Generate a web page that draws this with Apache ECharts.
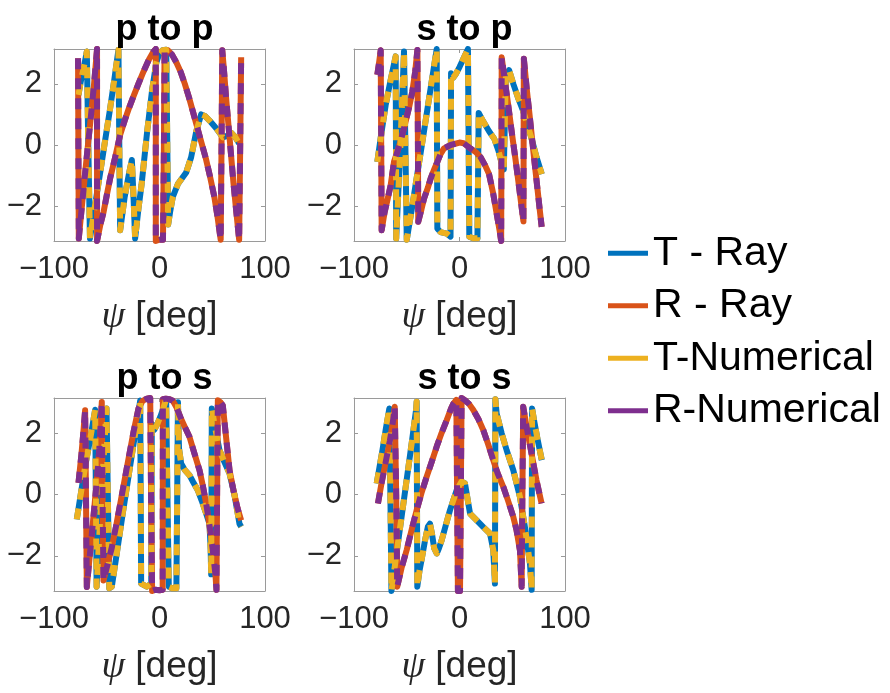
<!DOCTYPE html>
<html>
<head>
<meta charset="utf-8">
<title>Phase of reflection and transmission coefficients</title>
<script src="https://cdn.jsdelivr.net/npm/echarts@6/dist/echarts.min.js"></script>
<style>
  html, body { margin: 0; padding: 0; background: #ffffff; }
  #chart { width: 890px; height: 693px; }
</style>
</head>
<body>
<div id="chart"></div>
<script>
// Phase (rad) versus incidence angle psi (deg); T = transmitted, R = reflected.
// Ray-tracing and numerical results share the same phase curves.

const panelTitles = ['p to p', 's to p', 'p to s', 's to s'];
const seriesNames = ['T - Ray', 'R - Ray', 'T-Numerical', 'R-Numerical'];
const xTicks = [-100, 0, 100];
const yTicks = [-2, 0, 2];

// p to p
const ppT = [
  [-76.8, 1.64], [-74.5, 2.1], [-72, 2.5], [-70, 2.85], [-68.9, 3.06], [-67.5, 0], [-65.9, -3.06],
  [-61, -1.95], [-56, -0.85], [-52, 0.05], [-47, 1.15], [-43, 2.1], [-38.9, 3.12], [-38.1, 0], [-37.3, -2.79],
  [-33, -1.7], [-29, -0.95], [-26.2, -0.49], [-24.5, -1.8], [-23.1, -3.06],
  [-20, -2.1], [-17, -1.3], [-11.7, 0.44], [-7, 1.8], [-3, 2.7], [0, 3.0], [3, 3.1], [6.4, 3.12], [7.3, 0.3], [8.2, -2.6],
  [10, -2.2], [12.6, -1.7], [17.4, -1.28], [25.3, -0.9], [30, -0.4], [34.8, 0.44], [39.5, 1.0], [43, 0.95],
  [47.4, 0.8], [53.7, 0.55], [60, 0.25], [64, 0.3], [68, 0.4], [72, 0.25], [75.5, 0.05]
];
const ppR = [
  [-77.2, 2.84], [-76.9, 0], [-76.5, -3.06], [-73, -1.8], [-69, -0.4], [-65, 0.95], [-62, 2.0], [-59.2, 3.14], [-59.2, -3.14],
  [-56, -2.6], [-53, -2.19], [-50, -1.65], [-46.8, -1.09], [-42, -0.4], [-37.3, 0.33], [-33, 0.8], [-29, 1.2], [-24.6, 1.6],
  [-20, 2.0], [-15.2, 2.4], [-10, 2.8], [-5.7, 3.06], [-3.5, 3.14], [-3.5, -3.14], [0, -3.1], [3.3, -3.1], [4.2, 0], [4.8, 3.1],
  [8, 3.1], [12, 2.95], [16, 2.7], [20, 2.4], [24, 2.0], [28, 1.55], [32, 1.05], [36, 0.55], [40, 0.05], [44, -0.45],
  [48, -1.05], [52, -1.7], [55, -2.35], [58, -3.1], [58.8, 0], [59.5, 3.1],
  [61, 2.5], [63, 1.6], [66, 0.4], [68, -0.4], [70, -1.2], [72.7, -2.15], [75.5, -3.1], [76.5, 0], [77.4, 2.87]
];

// s to p
const spT = [
  [-77.9, -0.55], [-74, 0.4], [-70, 1.3], [-66, 2.0], [-63, 2.5], [-60.5, 2.9], [-60.2, 0], [-60, -3.06],
  [-56, 0], [-52.6, 3.06], [-51.3, 0], [-50, -3.1],
  [-45, -2.05], [-40, -0.95], [-35, 0.15], [-30, 1.27], [-25, 2.38], [-21.6, 3.14], [-21.3, 0], [-21, -2.73],
  [-18, -2.85], [-12, -2.9], [-8.5, -3.0], [-8.2, 0], [-8, 2.35], [-6, 2.2], [-3, 2.35], [0, 2.55], [4, 2.85], [8, 3.14], [8.7, 0], [9.3, -3.0],
  [13, -3.05], [17, -3.05], [17.6, -1.0], [18.2, 1.05], [22, 0.8], [28, 0.45], [33, 0.2], [37, -0.2], [40, -0.6], [42, -0.8],
  [43, 0.8], [44, 2.3], [47, 2.45], [51, 2.0], [56, 1.5], [60.5, 1.1], [64, 0.7], [68, 0.25], [73, -0.4], [78, -0.95]
];
const spR = [
  [-77.9, 2.3], [-76, 2.75], [-74.7, 3.1], [-74.2, 0], [-73.8, -2.79], [-71, -2.2], [-68, -1.75], [-65.2, -1.31], [-62.1, -0.55],
  [-58.9, -0.22], [-56, 0.1], [-52.6, 0.55], [-48, 1.2], [-44.7, 1.75], [-42, 2.4], [-39.9, 3.11], [-39.4, 0], [-39.1, -2.51],
  [-36, -2.1], [-33.6, -1.75], [-30, -1.4], [-27.3, -1.09], [-24, -0.8], [-21, -0.55], [-18, -0.3], [-14.7, -0.11], [-8.4, 0.0],
  [0, 0.08], [4, 0.06], [8, -0.05], [12, -0.15], [16, -0.25], [20, -0.4], [24, -0.65], [28, -0.95], [32, -1.6], [35, -2.2],
  [38, -2.8], [39.5, -3.14], [39.8, 0], [40, 2.87], [43, 2.1], [46, 1.35], [50, 0.3], [53, -0.45], [56, -1.25], [60.6, -2.5],
  [61, 2.82], [64, 1.75], [67, 0.8], [70, -0.2], [73, -1.15], [76, -2.1], [77.9, -2.68]
];

// p to s
const psT = [
  [-78.4, -0.81], [-74, 0.15], [-70, 1.0], [-66, 1.75], [-63, 2.35], [-61, 2.76], [-60.3, 0], [-59.6, -3.0],
  [-55, 0], [-50.2, 2.8], [-49, 0], [-47.6, -3.05],
  [-45.2, -3.0], [-40, -1.8], [-35, -0.65], [-30, 0.45], [-25, 1.55], [-20, 2.65], [-18.3, 3.06], [-17.8, 0], [-17.4, -2.9],
  [-12, -3.0], [-7.8, -2.9], [-7.5, 0], [-7.3, 2.3], [-5, 2.1], [-2, 2.3], [1, 2.55], [4, 2.85], [6.3, 3.1], [7.5, 0], [8.8, -3.0],
  [12, -3.05], [16, -3.05], [16.8, 0], [17.5, 3.0], [18.5, 1.5], [20.5, 1.01], [24, 0.8], [28.4, 0.63], [32, 0.4], [36.3, 0.14],
  [40, -0.2], [44.2, -0.62], [47.4, -0.95], [48.5, -1.8], [49, -2.6], [49.3, 0], [49.6, 2.8], [52, 2.3], [56.9, 1.44],
  [61, 1.1], [66.4, 0.68], [71, 0.0], [75.8, -0.95], [77.4, -1.05]
];
const psR = [
  [-76.8, 0.38], [-74, 1.3], [-72, 2.1], [-70.5, 2.74], [-69.7, 0], [-68.9, -3.01], [-65, -1.6], [-62, -0.5], [-59, 0.6],
  [-57, 1.5], [-54.7, 3.01], [-54, 0], [-53.1, -2.8], [-49, -2.25], [-45.2, -1.72], [-41, -1.0], [-37.3, -0.32], [-31, 0.86],
  [-24.6, 2.04], [-19.9, 2.8], [-16, 3.05], [-12, 3.12], [-8.8, 3.14], [-8, 0], [-7, -3.14], [-4, -3.1], [0, -3.12],
  [3, -3.1], [3.2, 3.1], [6, 3.12], [9.5, 3.1], [12.6, 3.05], [15.8, 2.86], [20, 2.5], [24, 2.2], [28.4, 1.88], [33, 1.35],
  [37.9, 0.79], [41, 0.3], [44.2, -0.29], [47.4, -1.0], [50.5, -1.81], [53, -2.6], [54, -3.1], [54.6, 0], [55.3, 3.07],
  [58, 3.0], [60, 2.9], [63, 1.9], [66.4, 0.79], [70, 0.15], [74, -0.45], [77.4, -0.84]
];

// s to s
const ssT = [
  [-78.5, 0.36], [-76, 0.85], [-73, 1.45], [-70, 2.1], [-67.5, 2.6], [-66.5, 2.8], [-65.5, 0], [-64.5, -3.14],
  [-60, -2.0], [-55, -0.75], [-50, 0.5], [-45, 1.75], [-41, 2.8], [-40.6, 3.02], [-40.3, 0], [-40, -3.0],
  [-38, -2.5], [-35.8, -2.1], [-32.7, -1.5], [-30, -1.05], [-28, -0.95], [-26, -1.3], [-24, -1.75], [-21.6, -1.92],
  [-19.5, -1.75], [-16.9, -1.49], [-13, -1.0], [-9, -0.51], [-2.7, 0.14], [2, 0.42], [5.2, 0.36], [8.4, -0.3], [10, -0.62],
  [16.3, -0.84], [22.6, -1.06], [28.9, -1.27], [32, -1.8], [33.6, -2.9], [33.8, 0], [34, 3.1],
  [35.2, 2.64], [39.9, 2.0], [44.7, 1.44], [51, 0.79], [57.3, -0.08], [62, -1.06], [66.8, -2.25], [68.4, -3.1],
  [68.6, 0], [68.8, 2.8], [71, 2.35], [74, 1.8], [78, 1.12]
];
const ssR = [
  [-77.3, -0.29], [-74, 0.35], [-70, 1.05], [-66, 1.75], [-63, 2.4], [-61.4, 2.86], [-60, 0], [-59, -3.0],
  [-55, -2.4], [-50, -1.8], [-45, -1.1], [-40.6, -0.51], [-36, 0.05], [-31.1, 0.58], [-26, 1.1], [-21.6, 1.56], [-17, 2.0],
  [-12.1, 2.42], [-8, 2.8], [-5.8, 2.96], [-3, 3.08], [-1.5, 3.14], [-1.5, -3.14], [0.5, -3.14], [2, -3.14], [2, 3.14],
  [5.2, 3.07], [9, 2.95], [13.1, 2.75], [18, 2.45], [22.6, 2.09], [27, 1.65], [32, 1.12], [36, 0.7], [41.5, 0.25], [46, -0.2],
  [51, -0.73], [54, -1.15], [57.3, -1.82], [58.9, -3.0], [59.6, 0], [60.4, 2.86], [63.6, 2.2], [68.3, 1.33], [73, 0.46], [77.8, -0.29]
];

const panelData = [[ppT, ppR], [spT, spR], [psT, psR], [ssT, ssR]];

// colours: blue, orange, yellow, purple
const colors = ['#0072BD', '#D95319', '#EDB120', '#7E2F8E'];

const grids = [
  { left: 54, top: 49, width: 211, height: 192 },
  { left: 354, top: 49, width: 211, height: 192 },
  { left: 54, top: 398, width: 211, height: 193 },
  { left: 354, top: 398, width: 211, height: 193 }
];

const axisColor = '#9a9a9a';
const textColor = '#262626';
const sansFont = '"Liberation Sans", Arial, Helvetica, sans-serif';
const fmt = v => String(v).replace('-', '\u2212');

const xAxes = [];
const yAxes = [];
const titles = [];
const series = [];

function boxLine() {
  return { show: true, onZero: false, lineStyle: { color: axisColor, width: 1 } };
}
function innerTicks(custom) {
  const t = { show: true, inside: true, length: 4, lineStyle: { color: axisColor } };
  if (custom) t.customValues = custom;
  return t;
}

grids.forEach((g, i) => {
  // bottom axis with labels and name
  xAxes.push({
    gridIndex: i, type: 'value', position: 'bottom', min: -100, max: 100, interval: 100,
    axisLine: boxLine(),
    axisTick: innerTicks(),
    axisLabel: { show: true, fontSize: 31, color: textColor, fontFamily: sansFont, margin: 13,
                 showMinLabel: true, showMaxLabel: true, formatter: fmt },
    splitLine: { show: false },
    name: '{g|\u03C8}{t| [deg]}',
    nameLocation: 'middle', nameGap: 57,
    nameTextStyle: {
      color: textColor,
      rich: {
        g: { fontFamily: '"Liberation Serif", "DejaVu Serif", serif', fontStyle: 'italic', fontSize: 38, color: textColor },
        t: { fontFamily: sansFont, fontSize: 37, color: textColor }
      }
    }
  });
  // top axis: box edge and ticks only
  xAxes.push({
    gridIndex: i, type: 'value', position: 'top', min: -100, max: 100, interval: 100,
    axisLine: boxLine(), axisTick: innerTicks(),
    axisLabel: { show: false }, splitLine: { show: false }
  });
  yAxes.push({
    gridIndex: i, type: 'value', position: 'left', min: -Math.PI, max: Math.PI,
    axisLine: boxLine(), axisTick: innerTicks(yTicks),
    axisLabel: { show: true, fontSize: 31, color: textColor, fontFamily: sansFont, margin: 12,
                 customValues: yTicks, formatter: fmt },
    splitLine: { show: false }
  });
  yAxes.push({
    gridIndex: i, type: 'value', position: 'right', min: -Math.PI, max: Math.PI,
    axisLine: boxLine(), axisTick: innerTicks(yTicks),
    axisLabel: { show: false }, splitLine: { show: false }
  });

  titles.push({
    text: panelTitles[i],
    left: g.left + g.width / 2,
    top: g.top - 42,
    textAlign: 'center',
    textStyle: { fontFamily: sansFont, fontWeight: 'bold', fontSize: 36, color: '#000000' }
  });

  const [T, R] = panelData[i];
  const curves = [T, R, T, R];
  curves.forEach((d, k) => {
    series.push({
      name: seriesNames[k],
      type: 'line',
      xAxisIndex: 2 * i,
      yAxisIndex: 2 * i,
      data: d,
      showSymbol: false,
      symbol: 'none',
      clip: true,
      color: colors[k],
      lineStyle: {
        color: colors[k],
        width: 6,
        type: k >= 2 ? [11, 9] : 'solid',
        cap: 'butt',
        join: 'round'
      },
      emphasis: { disabled: true },
      z: 2 + k
    });
  });
});

const chart = echarts.init(document.getElementById('chart'), null, { renderer: 'canvas' });
chart.setOption({
  backgroundColor: '#ffffff',
  animation: false,
  title: titles,
  grid: grids,
  xAxis: xAxes,
  yAxis: yAxes,
  legend: {
    data: seriesNames,
    orient: 'vertical',
    left: 608,
    top: 227,
    padding: 0,
    itemGap: 0,
    itemWidth: 40,
    itemHeight: 5,
    icon: 'rect',
    textStyle: { fontFamily: sansFont, fontSize: 41, color: '#000000', lineHeight: 52.5 }
  },
  series: series
});
</script>
</body>
</html>
